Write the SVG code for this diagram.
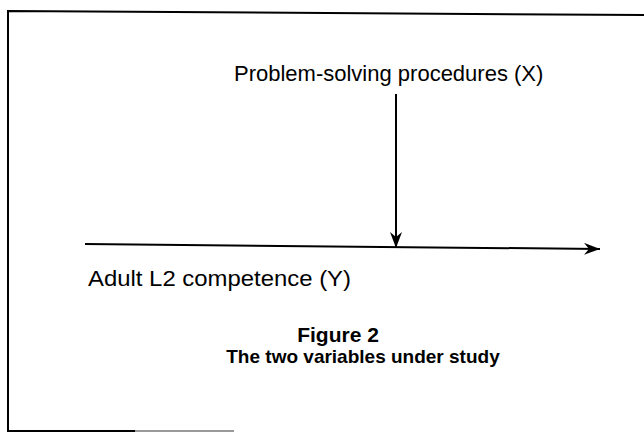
<svg xmlns="http://www.w3.org/2000/svg" width="644" height="433" viewBox="0 0 644 433">
<style>
.t{font-family:"Liberation Sans",Arial,sans-serif;font-size:22px;fill:#000}
.b{font-family:"Liberation Sans",Arial,sans-serif;font-weight:bold;fill:#000}
.ln{stroke:#000;stroke-width:2;fill:none}
</style>
<defs>
<marker id="ah" viewBox="0 0 16 12" refX="16" refY="6" markerWidth="16" markerHeight="12" orient="auto" markerUnits="userSpaceOnUse">
<path d="M0,0 L16,6 L0,12 L5,6 Z" fill="#000"/>
</marker>
</defs>
<rect width="644" height="433" fill="#fff"/>
<g id="frame">
<path class="ln" d="M8,432 L8,11 L644,15"/>
<path d="M8,431 L135,431" stroke="#000" stroke-width="2"/>
<path d="M135,431 L234,431" stroke="#999" stroke-width="2"/>
</g>
<g id="node-x"><text class="t" x="234" y="81">Problem-solving procedures (X)</text></g>
<g id="node-y"><text class="t" x="88" y="286" textLength="263" lengthAdjust="spacingAndGlyphs">Adult L2 competence (Y)</text></g>
<g id="caption">
<text class="b" x="338" y="342" font-size="21" text-anchor="middle">Figure 2</text>
<text class="b" x="363" y="363" font-size="19" text-anchor="middle">The two variables under study</text>
</g>
<g id="connectors">
<line class="ln" x1="396" y1="94" x2="396" y2="248" marker-end="url(#ah)"/>
<line class="ln" x1="85" y1="244" x2="600" y2="249" marker-end="url(#ah)"/>
</g>
</svg>
